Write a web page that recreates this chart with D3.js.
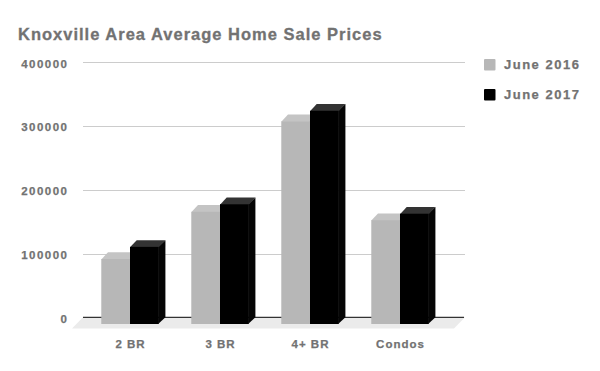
<!DOCTYPE html>
<html>
<head>
<meta charset="utf-8">
<script src="https://cdn.jsdelivr.net/npm/d3@7"></script>
<style>
  html, body { margin: 0; padding: 0; background: #fff; }
  svg { display: block; font-family: "Liberation Sans", Arial, sans-serif; font-weight: bold; }
</style>
</head>
<body>
<svg id="chart" width="600" height="371"></svg>
<script>
const title = "Knoxville Area Average Home Sale Prices";
const categories = ["2 BR", "3 BR", "4+ BR", "Condos"];
const seriesNames = ["June 2016", "June 2017"];
const june2016 = [102000, 176000, 318000, 163000];
const june2017 = [121000, 188000, 334500, 173000];
const yTicks = [0, 100000, 200000, 300000, 400000];

const colors = {
  front: ["#b7b7b7", "#000000"],
  top: ["#c4c4c4", "#333333"],
  side: ["#a8a8a8", "#050505"]
};
const textColor = "#727272";
const depth = 6.7;

const svg = d3.select("#chart");

const y = d3.scaleLinear().domain([0, 400000]).range([317.3, 62.3]);
const x = d3.scaleBand().domain(categories).range([85, 445]).paddingInner(0.362).paddingOuter(0.181);
const xs = d3.scaleBand().domain(seriesNames).range([0, x.bandwidth()]);

const gridX0 = 83, gridX1 = 465;

// Title
svg.append("text")
  .attr("x", 18).attr("y", 40)
  .attr("fill", textColor)
  .attr("font-size", 16.5)
  .attr("letter-spacing", 1)
  .attr("stroke", textColor).attr("stroke-width", 0.3)
  .text(title);

// Floor
const y0 = y(0);
svg.append("polygon")
  .attr("points", [[gridX0, y0], [gridX1, y0], [gridX1 - 11, y0 + 11.3], [gridX0 - 11, y0 + 11.3]].map(p => p.join(",")).join(" "))
  .attr("fill", "#ebebeb");

// Gridlines
svg.append("g").selectAll("line").data(yTicks.filter(d => d !== 0)).join("line")
  .attr("x1", gridX0).attr("x2", gridX1)
  .attr("y1", d => Math.round(y(d)) + 0.5).attr("y2", d => Math.round(y(d)) + 0.5)
  .attr("stroke", "#cccccc").attr("stroke-width", 1);

svg.append("line")
  .attr("x1", gridX0).attr("x2", gridX1 - 1)
  .attr("y1", y0).attr("y2", y0)
  .attr("stroke", "#333333").attr("stroke-width", 1.3);

// Y axis labels via d3 axis
const yAxis = d3.axisLeft(y).tickValues(yTicks).tickSize(0).tickPadding(0).tickFormat(d3.format("d"));
const gy = svg.append("g").attr("transform", "translate(68.5,0)").call(yAxis);
gy.select(".domain").remove();
gy.selectAll("text")
  .attr("fill", textColor)
  .attr("stroke", textColor).attr("stroke-width", 0.25)
  .attr("font-size", 11.5)
  .attr("font-family", "Liberation Sans, Arial, sans-serif")
  .attr("font-weight", "bold")
  .attr("letter-spacing", 1.5)
  .attr("dy", "0.42em");

// Bars
const data = [];
categories.forEach((c, i) => {
  data.push({ cat: c, s: 0, v: june2016[i] });
  data.push({ cat: c, s: 1, v: june2017[i] });
});

const gb = svg.append("g");
data.forEach(d => {
  const x0 = x(d.cat) + xs(seriesNames[d.s]);
  const x1 = x0 + xs.bandwidth();
  const yt = y(d.v);
  const g = gb.append("g");
  // side
  g.append("polygon")
    .attr("points", [[x1 - 0.5, yt + depth], [x1 + depth, yt], [x1 + depth, y0], [x1 - 0.5, y0 + depth]].map(p => p.join(",")).join(" "))
    .attr("fill", colors.side[d.s]);
  // top
  g.append("polygon")
    .attr("points", [[x0, yt + depth + 0.5], [x0 + depth, yt], [x1 + depth, yt], [x1, yt + depth + 0.5]].map(p => p.join(",")).join(" "))
    .attr("fill", colors.top[d.s]);
  // front
  g.append("rect")
    .attr("x", x0).attr("y", yt + depth)
    .attr("width", x1 - x0).attr("height", y0 - yt)
    .attr("fill", colors.front[d.s]);
});

// X axis labels
const xAxis = d3.axisBottom(x).tickSize(0).tickPadding(0);
const gx = svg.append("g").attr("transform", "translate(0,347.5)").call(xAxis);
gx.select(".domain").remove();
gx.selectAll("text")
  .attr("fill", textColor)
  .attr("stroke", textColor).attr("stroke-width", 0.25)
  .attr("font-size", 11.5)
  .attr("font-family", "Liberation Sans, Arial, sans-serif")
  .attr("font-weight", "bold")
  .attr("letter-spacing", 1)
  .attr("dy", 0)
  .attr("dx", 0.5);

// Legend
const lg = svg.append("g");
seriesNames.forEach((s, i) => {
  const ly = 59 + i * 30;
  lg.append("rect").attr("x", 484).attr("y", ly).attr("width", 11.5).attr("height", 11.5)
    .attr("rx", 1).attr("fill", colors.front[i]);
  lg.append("text").attr("x", 504).attr("y", ly + 10)
    .attr("fill", textColor)
    .attr("stroke", textColor).attr("stroke-width", 0.25)
    .attr("font-size", 13).attr("letter-spacing", 1.5)
    .text(s);
});
</script>
</body>
</html>
